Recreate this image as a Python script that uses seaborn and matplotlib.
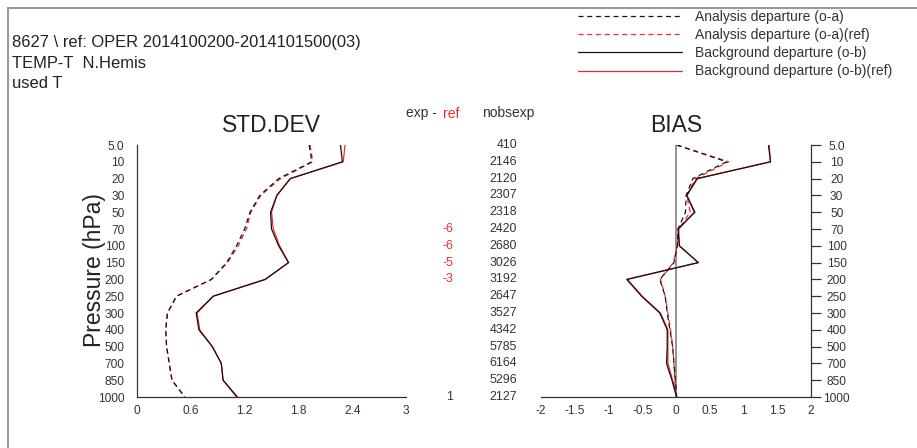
import matplotlib
matplotlib.use("Agg")
import numpy as np
import pandas as pd
import seaborn as sns
import matplotlib.pyplot as plt
from matplotlib.lines import Line2D

# ---------------- data ----------------
levels = ["5.0", "10", "20", "30", "50", "70", "100", "150", "200",
          "250", "300", "400", "500", "700", "850", "1000"]
nobsexp = [410, 2146, 2120, 2307, 2318, 2420, 2680, 3026, 3192,
           2647, 3527, 4342, 5785, 6164, 5296, 2127]
exp_minus_ref = [None, None, None, None, None, -6, -6, -5, -3,
                 None, None, None, None, None, None, 1]

std_oa = [1.92, 1.95, 1.58, 1.37, 1.26, 1.20, 1.11, 1.00, 0.83,
          0.44, 0.34, 0.32, 0.33, 0.36, 0.39, 0.535]
std_oa_ref = [1.93, 1.96, 1.60, 1.38, 1.27, 1.22, 1.13, 1.01, 0.83,
              0.44, 0.34, 0.32, 0.33, 0.36, 0.39, 0.53]
std_ob = [2.27, 2.29, 1.71, 1.56, 1.49, 1.50, 1.58, 1.69, 1.43,
          0.85, 0.66, 0.69, 0.84, 0.94, 0.96, 1.12]
std_ob_ref = [2.32, 2.30, 1.71, 1.56, 1.50, 1.52, 1.59, 1.69, 1.43,
              0.85, 0.67, 0.70, 0.84, 0.94, 0.96, 1.11]

bias_oa = [0.01, 0.75, 0.25, 0.15, 0.14, 0.03, 0.02, -0.03, -0.24,
           -0.16, -0.13, -0.09, -0.05, -0.03, -0.01, 0.01]
bias_oa_ref = [0.01, 0.78, 0.29, 0.16, 0.21, 0.04, 0.02, -0.04, -0.23,
               -0.16, -0.12, -0.08, -0.05, -0.03, -0.02, 0.00]
bias_ob = [1.37, 1.40, 0.31, 0.16, 0.28, 0.03, 0.05, 0.33, -0.73,
           -0.51, -0.24, -0.13, -0.13, -0.14, -0.06, 0.01]
bias_ob_ref = [1.38, 1.40, 0.32, 0.16, 0.27, 0.04, 0.05, 0.33, -0.72,
               -0.50, -0.23, -0.12, -0.12, -0.12, -0.05, 0.01]

std_ticks = [0, 0.6, 1.2, 1.8, 2.4, 3]
std_ticklabels = ["0", "0.6", "1.2", "1.8", "2.4", "3"]
bias_ticks = [-2, -1.5, -1, -0.5, 0, 0.5, 1, 1.5, 2]
bias_ticklabels = ["-2", "-1.5", "-1", "-0.5", "0", "0.5", "1", "1.5", "2"]

series_labels = ["Analysis departure (o-a)", "Analysis departure (o-a)(ref)",
                 "Background departure (o-b)", "Background departure (o-b)(ref)"]

# ---------------- style ----------------
sns.set_style("white")
plt.rcParams["font.family"] = ["Liberation Sans", "DejaVu Sans"]
TXT = "#333333"
BLACK = "#1a1010"
RED = "#ee2a2a"
DASH = (0, (4.0, 3.0))
LW = 0.9
TICK_FS = 8.6

W, H = 917, 448
fig = plt.figure(figsize=(W / 100, H / 100), dpi=100)
fig.patch.set_facecolor("white")


def rect(x0, y0, x1, y1):
    return [x0 / W, 1 - y1 / H, (x1 - x0) / W, (y1 - y0) / H]


axL = fig.add_axes(rect(137, 145, 406, 397))
axR = fig.add_axes(rect(541, 145, 811, 397))
axM = fig.add_axes(rect(406, 145, 541, 397))

pos = np.arange(len(levels))

styles = [  # (color, linestyle, zorder) for o-a, o-a(ref), o-b, o-b(ref)
    (BLACK, DASH, 4),
    (RED, DASH, 3),
    (BLACK, "-", 4),
    (RED, "-", 3),
]


def draw(ax, vals_list):
    for vals, (c, ls, z) in zip(vals_list, styles):
        df = pd.DataFrame({"value": vals, "pos": pos})
        sns.lineplot(data=df, x="value", y="pos", ax=ax, orient="y", sort=False,
                     estimator=None, color=c, linestyle=ls, lw=LW, zorder=z)


draw(axL, [std_oa, std_oa_ref, std_ob, std_ob_ref])
draw(axR, [bias_oa, bias_oa_ref, bias_ob, bias_ob_ref])
axR.axvline(0, color="#8a8a8a", lw=1.3, zorder=1)

for ax in (axL, axR):
    ax.set_ylim(len(levels) - 1, 0)
    ax.set_yticks(pos)
    ax.set_yticklabels(levels)
    ax.set_xlabel("")
    ax.set_ylabel("")
    ax.set_facecolor("none")
    for s in ax.spines.values():
        s.set_color(TXT)
        s.set_linewidth(0.9)
    ax.tick_params(axis="y", length=7, width=0.9, labelsize=TICK_FS, colors=TXT)
    ax.tick_params(axis="x", length=4.5, width=0.9, labelsize=TICK_FS, colors=TXT, pad=1.5)

axL.set_xlim(0, 3)
axL.set_xticks(std_ticks)
axL.set_xticklabels(std_ticklabels)
axL.spines["top"].set_visible(False)
axL.spines["right"].set_visible(False)
axL.tick_params(axis="y", pad=2)

axR.set_xlim(-2, 2)
axR.set_xticks(bias_ticks)
axR.set_xticklabels(bias_ticklabels)
axR.spines["top"].set_visible(False)
axR.spines["left"].set_visible(False)
axR.yaxis.tick_right()
axR.yaxis.set_label_position("right")
axR.tick_params(axis="y", pad=11.5)
for lbl in axR.get_yticklabels():
    lbl.set_ha("center")

axL.set_title("STD.DEV", fontsize=16.5, pad=9, color="#222222")
axR.set_title("BIAS", fontsize=16.5, pad=9, color="#222222")

# middle columns
axM.set_xlim(406, 541)
axM.set_ylim(len(levels) - 1, 0)
axM.axis("off")
for i in range(len(levels)):
    axM.text(517, pos[i], str(nobsexp[i]), ha="right", va="center",
             fontsize=8.9, color=TXT)
    d = exp_minus_ref[i]
    if d is not None:
        axM.text(453, pos[i], str(d), ha="right", va="center", fontsize=8.9,
                 color=RED if d < 0 else TXT)


def ftext(px, py, s, **kw):
    return fig.text(px / W, 1 - py / H, s, **kw)


ftext(437, 117.5, "exp -", ha="right", va="baseline", fontsize=10, color=TXT)
ftext(442.7, 117.5, "ref", ha="left", va="baseline", fontsize=10, color=RED)
ftext(481.7, 117.5, "nobsexp", ha="left", va="baseline", fontsize=10, color=TXT)

# header
HFS = 11.9
ftext(12, 47, "8627 \\ ref: OPER 2014100200-2014101500(03)", ha="left",
      va="baseline", fontsize=HFS, color="#222222")
ftext(12, 67.5, "TEMP-T  N.Hemis", ha="left", va="baseline", fontsize=HFS, color="#222222")
ftext(12, 88, "used T", ha="left", va="baseline", fontsize=HFS, color="#222222")

ftext(95, 270, "Pressure (hPa)", rotation=90, ha="center", va="center",
      fontsize=16.5, color="#222222")

# frame
fig.add_artist(Line2D([8 / W, 8 / W], [0, 1 - 8 / H], transform=fig.transFigure,
                      color="#9a9a9a", lw=1.5))
fig.add_artist(Line2D([8 / W, 1], [1 - 8 / H, 1 - 8 / H], transform=fig.transFigure,
                      color="#9a9a9a", lw=1.5))

# legend
handles = [Line2D([], [], color=c, linestyle=ls, lw=LW) for (c, ls, z) in styles]
leg = fig.legend(handles, series_labels, loc="upper left",
                 bbox_to_anchor=(578 / W, 1 - 10 / H), frameon=False,
                 handlelength=7.5, handletextpad=0.94, labelspacing=0.3,
                 borderpad=0, borderaxespad=0, fontsize=10)
for t in leg.get_texts():
    t.set_color(TXT)

fig.savefig("out.png", dpi=100, facecolor="white")
